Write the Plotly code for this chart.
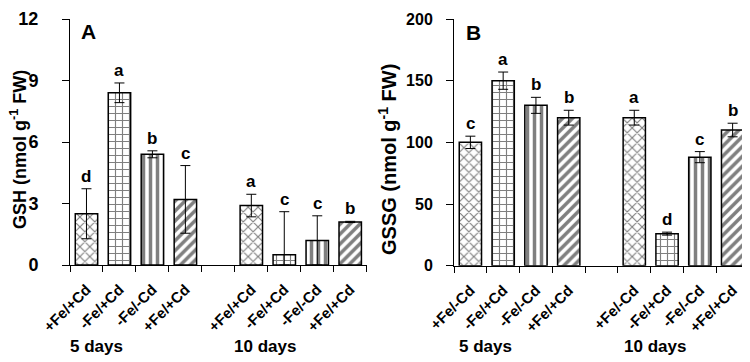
import plotly.graph_objects as go

# ---------------- data ----------------
positions = [0, 1, 2, 3, 5, 6, 7, 8]
labels_A = ["+Fe/+Cd", "-Fe/+Cd", "-Fe/-Cd", "+Fe/+Cd", "+Fe/+Cd", "-Fe/+Cd", "-Fe/-Cd", "+Fe/+Cd"]
labels_B = ["+Fe/-Cd", "-Fe/+Cd", "-Fe/-Cd", "+Fe/+Cd", "+Fe/-Cd", "-Fe/+Cd", "-Fe/-Cd", "+Fe/+Cd"]
gsh = [2.5, 8.4, 5.4, 3.2, 2.9, 0.5, 1.2, 2.1]
gsh_err = [1.22, 0.48, 0.17, 1.65, 0.55, 2.1, 1.2, 0.03]
gsh_letters = ["d", "a", "b", "c", "a", "c", "c", "b"]
gssg = [100, 150, 130, 120, 120, 26, 88, 110]
gssg_err = [5, 7, 6.5, 6, 6, 1.2, 4.5, 5.5]
gssg_letters = ["c", "a", "b", "b", "a", "d", "c", "b"]
patterns = ["x", "+", "|", "/", "x", "+", "|", "/"]
groups = ["5 days", "10 days"]

FONT = "Liberation Sans, Arial, sans-serif"
OFF = 8  # page body margin
W, H = 750 - OFF, 362 - OFF

def fx(px):
    return (px - OFF) / W

def fy(py):
    return 1 - (py - OFF) / H

fig = go.Figure()

def add_panel(vals, errs, xa, ya):
    minus = [min(e, v) for e, v in zip(errs, vals)]
    fig.add_trace(go.Bar(
        x=positions, y=vals, xaxis=xa, yaxis=ya, width=0.68,
        marker=dict(color="white", line=dict(color="black", width=1.5),
                    pattern=dict(shape=patterns, fgcolor="black", bgcolor="white",
                                 size=7, solidity=[0.3, 0.3, 0.5, 0.5] * 2)),
        error_y=dict(type="data", array=errs, arrayminus=minus, color="black",
                     thickness=1, width=5),
        showlegend=False,
    ))

add_panel(gsh, gsh_err, "x", "y")
add_panel(gssg, gssg_err, "x2", "y2")

def xaxis(domain, labels, anchor):
    return dict(domain=domain, anchor=anchor, range=[-0.5, 8.5], automargin=False,
                tickmode="array", tickvals=positions, ticktext=labels,
                tickangle=-45, ticks="", showline=True, linecolor="black", linewidth=1,
                ticklabelstandoff=9,
                tickfont=dict(family=FONT, size=15, color="black", weight="bold"),
                minor=dict(ticks="outside", tick0=0.5, dtick=1, ticklen=6,
                           tickcolor="black", tickwidth=1),
                showgrid=False, zeroline=False, fixedrange=True)

def yaxis(domain, rng, dtick, anchor, fsize, standoff):
    return dict(domain=domain, anchor=anchor, range=rng, dtick=dtick, automargin=False,
                ticks="outside", ticklen=7, tickcolor="black",
                ticklabelstandoff=standoff, ticklabeloverflow="allow",
                showline=True, linecolor="black", linewidth=1,
                tickfont=dict(family=FONT, size=fsize, color="black", weight="bold"),
                showgrid=False, zeroline=False)

fig.update_layout(
    width=W, height=H, margin=dict(l=0, r=0, t=0, b=0, autoexpand=False),
    paper_bgcolor="white", plot_bgcolor="white",
    bargap=0.3,
    xaxis=xaxis([fx(70), fx(366.7)], labels_A, "y"),
    yaxis=yaxis([fy(265), fy(19)], [0, 12], 3, "x", 18, 20),
    xaxis2=xaxis([fx(454), fx(749)], labels_B, "y2"),
    yaxis2=yaxis([fy(265.7), fy(19)], [0, 200], 50, "x2", 16, 10),
)

ann = []
for p, v, e, t in zip(positions, gsh, gsh_err, gsh_letters):
    ann.append(dict(x=p, y=v + e, xref="x", yref="y", text=t, showarrow=False,
                    yanchor="bottom", yshift=1,
                    font=dict(family=FONT, size=17, color="black", weight="bold")))
for p, v, e, t in zip(positions, gssg, gssg_err, gssg_letters):
    ann.append(dict(x=p, y=v + e, xref="x2", yref="y2", text=t, showarrow=False,
                    yanchor="bottom", yshift=1,
                    font=dict(family=FONT, size=17, color="black", weight="bold")))

def pxa(x, y, text, size, angle=0):
    return dict(x=fx(x), y=fy(y), xref="paper", yref="paper", text=text,
                showarrow=False, textangle=angle, xanchor="center", yanchor="middle",
                font=dict(family=FONT, size=size, color="black", weight="bold"))

ann.append(pxa(88, 31, "A", 21))
ann.append(pxa(474, 32, "B", 21))
ann.append(pxa(18, 150, "GSH (nmol g<sup>-1</sup> FW)", 18, -90))
ann.append(pxa(387, 160, "GSSG (nmol g<sup>-1</sup> FW)", 20, -90))
ann.append(pxa(96, 346, groups[0], 17))
ann.append(pxa(265, 346, groups[1], 17))
ann.append(pxa(485, 346, groups[0], 17))
ann.append(pxa(655, 346, groups[1], 17))
fig.update_layout(annotations=ann)

fig.write_html("out.html")
